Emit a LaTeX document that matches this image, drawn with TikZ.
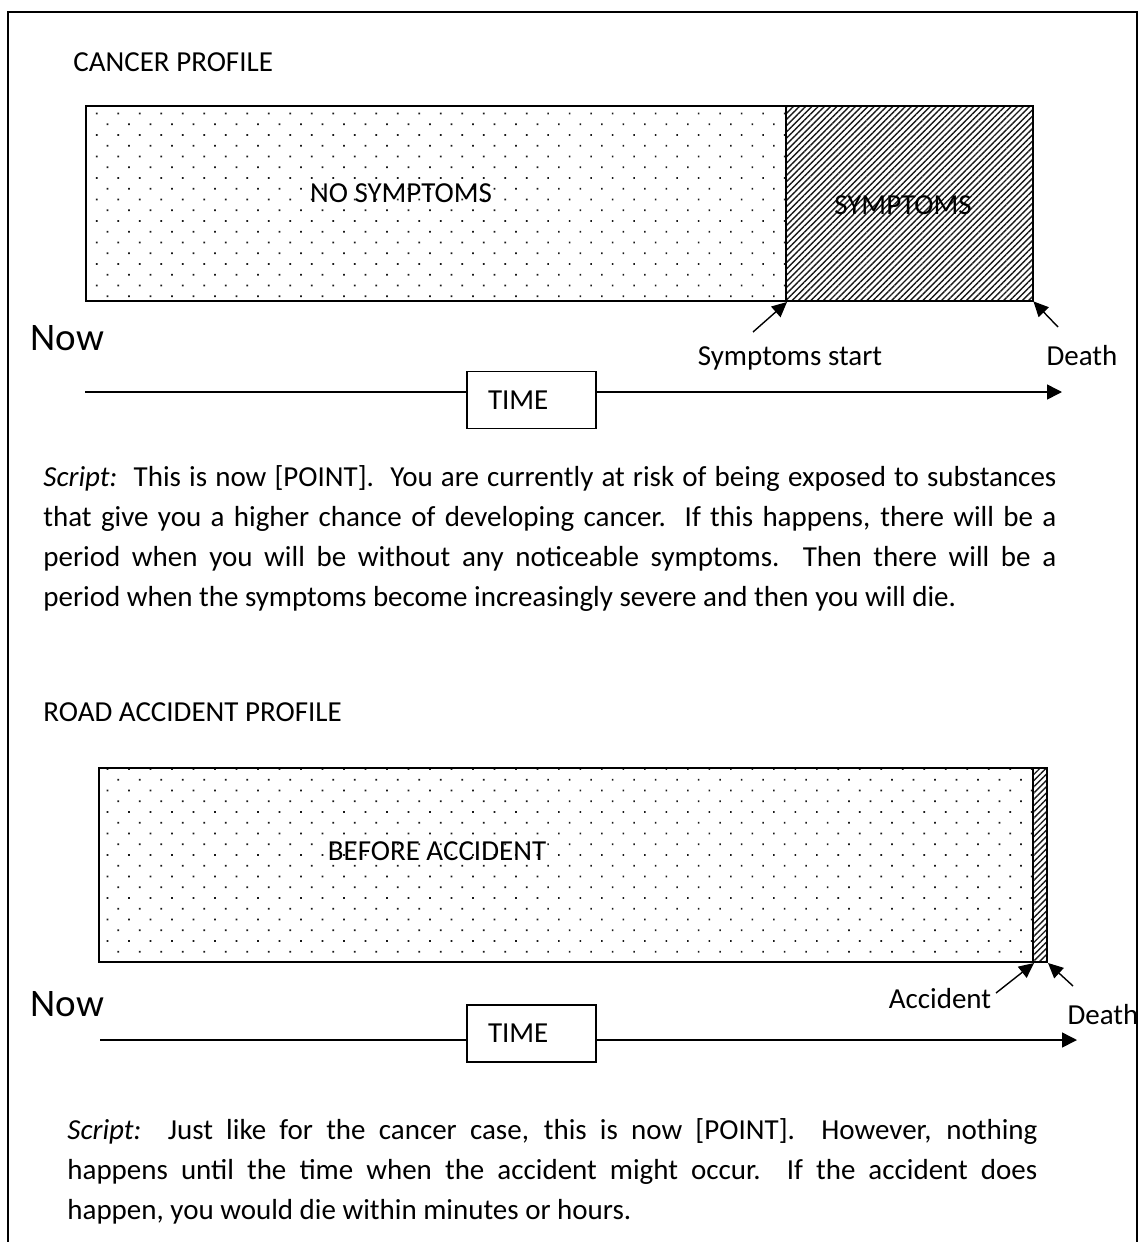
\documentclass[tikz,border=0pt]{standalone}
\usepackage{fontspec}
\setmainfont{Carlito}
\usepackage{tikz}
\usetikzlibrary{arrows.meta, patterns.meta}

\begin{document}
\begin{tikzpicture}[x=0.5pt, y=-0.5pt, >={Triangle[length=7.5pt,width=7pt]},
  quiet/.style={draw, line width=1pt, inner sep=0pt, anchor=north west,
    pattern={Dots[distance=7.6pt, angle=45, radius=0.6pt]}, pattern color=black!90},
  stormy/.style={draw, line width=1pt, inner sep=0pt, anchor=north west,
    pattern={Lines[angle=45, distance=2.2pt, line width=0.7pt]}, pattern color=black!90},
  lbl/.style={font=\fontsize{14.5}{17}\selectfont, inner sep=0pt},
  nowlbl/.style={font=\fontsize{19.5}{23}\selectfont, inner sep=0pt, anchor=base west},
  timebox/.style={draw, line width=0.7pt, font=\fontsize{14.5}{17}\selectfont,
    inner xsep=10.5pt, inner ysep=0pt, text width=43.5pt, align=left, minimum height=28.5pt},
  script/.style={inner sep=0pt, anchor=north west, align=justify,
    font=\fontsize{14.5}{20}\selectfont},
  ptr/.style={->, line width=0.7pt},
  axis/.style={line width=0.75pt},
  axisarrow/.style={-{Triangle[length=7.5pt,width=7.5pt]}, line width=0.75pt}]

\useasboundingbox (0,0) rectangle (1142,1242);
\draw[line width=1pt] (8,1242) -- (8,12) -- (1137,12) -- (1137,1242);

% cancer profile
\node[lbl, anchor=base west] (cancerhead) at (73,71) {CANCER PROFILE};
\node[quiet, minimum width=350pt, minimum height=97.5pt] (calm1) at (85,105) {};
\node[stormy, minimum width=123.5pt, minimum height=97.5pt] (storm1) at (785,105) {};
\node[lbl, anchor=base] (nosym) at (401,202) {NO SYMPTOMS};
\node[lbl, anchor=base] (sym) at (903,214) {SYMPTOMS};

\node[nowlbl] (now1) at (30,350) {Now};
\node[lbl, anchor=base] (symstart) at (790,365) {Symptoms start};
\node[lbl, anchor=base] (death1) at (1082,365) {Death};
\coordinate (symtail) at (753,332);
\coordinate (death1tail) at (1058,327);
\draw[ptr] (symtail) -- (calm1.south east);
\draw[ptr] (death1tail) -- (storm1.south east);

% time axis
\node[timebox] (time1) at (531.5,400) {TIME};
\coordinate (axis1) at (85,392);
\coordinate (axis1end) at (1062,392);
\draw[axis] (axis1) -- (axis1 -| time1.west);
\draw[axisarrow] (time1.east |- axis1) -- (axis1end);

\node[script, text width=506.5pt] (script1) at (43,465) {\textit{Script:}\ \ This is now [POINT].\ \ You are currently at risk of being exposed to substances\linebreak that give you a higher chance of developing cancer.\ \ If this happens, there will be a\linebreak period when you will be without any noticeable symptoms.\ \ Then there will be a\linebreak period when the symptoms become increasingly severe and then you will die.};

% road accident profile
\node[lbl, anchor=base west] (roadhead) at (43,721) {ROAD ACCIDENT PROFILE};
\node[quiet, minimum width=467pt, minimum height=97pt] (calm2) at (98,767) {};
\node[stormy, minimum width=7pt, minimum height=97pt] (storm2) at (1032,767) {};
\node[lbl, anchor=base] (before) at (437,860) {BEFORE ACCIDENT};

\node[nowlbl] (now2) at (30,1016) {Now};
\node[lbl, anchor=base] (accident) at (940,1008) {Accident};
\node[lbl, anchor=base] (death2) at (1103,1024) {Death};
\coordinate (acctail) at (996,993);
\coordinate (death2tail) at (1073,986);
\draw[ptr] (acctail) -- (calm2.south east);
\draw[ptr] (death2tail) -- (storm2.south east);

% time axis
\node[timebox] (time2) at (531.5,1033.5) {TIME};
\coordinate (axis2) at (100,1040);
\coordinate (axis2end) at (1077,1040);
\draw[axis] (axis2) -- (axis2 -| time2.west);
\draw[axisarrow] (time2.east |- axis2) -- (axis2end);

\node[script, text width=485pt] (script2) at (67,1118) {\textit{Script:}\ \ Just like for the cancer case, this is now [POINT].\ \ However, nothing\linebreak happens until the time when the accident might occur.\ \ If the accident does\linebreak happen, you would die within minutes or hours.};

\end{tikzpicture}
\end{document}
